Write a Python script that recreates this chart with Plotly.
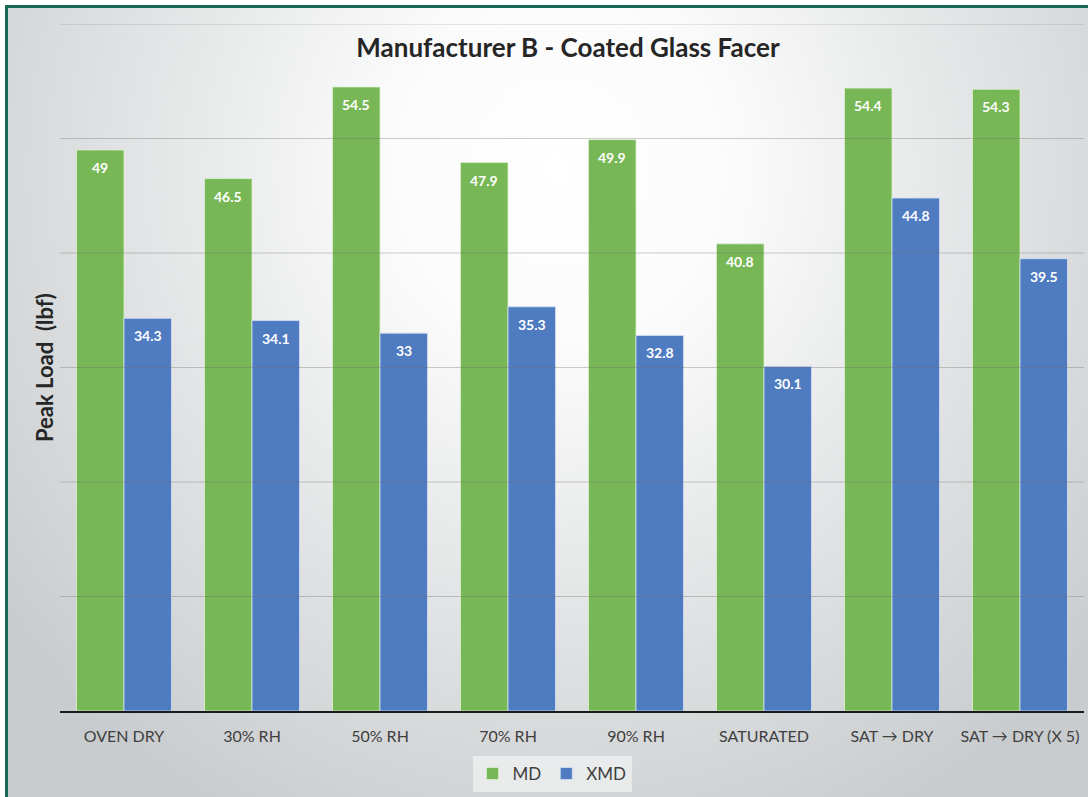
import base64
import plotly.graph_objects as go

# Chart data
categories = ["OVEN DRY", "30% RH", "50% RH", "70% RH", "90% RH",
              "SATURATED", "SAT \u2192 DRY", "SAT \u2192 DRY (X 5)"]
md_values = [49, 46.5, 54.5, 47.9, 49.9, 40.8, 54.4, 54.3]
xmd_values = [34.3, 34.1, 33, 35.3, 32.8, 30.1, 44.8, 39.5]
grid_values = [10, 20, 30, 40, 50, 60]

W, H = 1088, 797
ML, MR, MT, MB = 60, 4, 24, 86
PW, PH = W - ML - MR, H - MT - MB

GREEN = "#77b755"
BLUE = "#4f7bc1"
FONT = "Lato, 'Open Sans', sans-serif"

# Soft radial backdrop with a teal frame along the top and left edges
svg = f"""<svg xmlns='http://www.w3.org/2000/svg' width='{W}' height='{H}' viewBox='0 0 {W} {H}'>
<defs>
<radialGradient id='g' gradientUnits='userSpaceOnUse' cx='560' cy='170' r='700'
 gradientTransform='translate(560 170) scale(1 1.05) translate(-560 -170)'>
<stop offset='0' stop-color='#ffffff'/>
<stop offset='0.25' stop-color='#fbfbfb'/>
<stop offset='0.6' stop-color='#e2e4e5'/>
<stop offset='1' stop-color='#c9ccce'/>
</radialGradient>
</defs>
<rect x='0' y='0' width='{W}' height='{H}' fill='#ffffff'/>
<rect x='8' y='8' width='{W}' height='{H}' fill='url(#g)'/>
<rect x='5' y='5' width='{W}' height='3' fill='#176a58'/>
<rect x='5' y='5' width='3' height='{H}' fill='#176a58'/>
</svg>"""
bg_uri = "data:image/svg+xml;base64," + base64.b64encode(svg.encode()).decode()

fig = go.Figure()
fig.add_trace(go.Bar(
    name="MD", x=categories, y=md_values,
    marker=dict(color=GREEN, line=dict(color="rgba(220,240,210,0.8)", width=1)),
))
fig.add_trace(go.Bar(
    name="XMD", x=categories, y=xmd_values,
    marker=dict(color=BLUE, line=dict(color="rgba(210,225,245,0.8)", width=1)),
))

# Value labels just inside the top of each bar
annotations = []
for series, shift in ((md_values, -24), (xmd_values, 24)):
    for cat, val in zip(categories, series):
        annotations.append(dict(
            x=cat, y=val, xref="x", yref="y", text=f"{val:g}",
            showarrow=False, xshift=shift, yshift=-7, yanchor="top",
            font=dict(family=FONT, size=14, color="white", weight="bold"),
        ))

annotations.append(dict(
    text="Peak Load  (lbf)", textangle=-90, showarrow=False,
    xref="paper", yref="paper", x=(44 - ML) / PW, y=(H - MB - 368) / PH,
    xanchor="center", yanchor="middle",
    font=dict(family=FONT, size=22, color="#262626", weight="bold"),
))

shapes = [dict(type="line", xref="paper", yref="y", x0=0, x1=1, y0=v, y1=v,
               line=dict(color="rgba(110,110,110,0.35)", width=1), layer="above")
          for v in grid_values]

fig.update_layout(
    width=W, height=H,
    margin=dict(l=ML, r=MR, t=MT, b=MB),
    paper_bgcolor="#dfe1e2",
    plot_bgcolor="rgba(0,0,0,0)",
    barmode="group", bargap=0.258, bargroupgap=0.0,
    title=dict(text="Manufacturer B - Coated Glass Facer",
               x=568 / W, xanchor="center", xref="container",
               y=1 - 48 / H, yanchor="middle", yref="container",
               font=dict(family=FONT, size=26, color="#262626", weight="bold")),
    xaxis=dict(showgrid=False, showline=True, linecolor="#1a1a1a", linewidth=2,
               ticks="outside", ticklen=10, tickcolor="rgba(0,0,0,0)",
               tickfont=dict(family=FONT, size=16, color="#404040"),
               fixedrange=True),
    yaxis=dict(range=[0, 60], showgrid=False, showticklabels=False,
               zeroline=False, showline=False, fixedrange=True),
    legend=dict(orientation="h", x=(552 - ML) / PW, xanchor="center",
                y=(H - MB - 774) / PH, yanchor="middle",
                bgcolor="rgba(240,241,242,0.75)",
                font=dict(family=FONT, size=17, color="#404040"),
                itemwidth=30),
    annotations=annotations,
    shapes=shapes,
    images=[dict(source=bg_uri, xref="paper", yref="paper",
                 x=-ML / PW, y=1 + MT / PH, sizex=W / PW, sizey=H / PH,
                 xanchor="left", yanchor="top", sizing="stretch", layer="below")],
    showlegend=True,
)

fig.write_html("out.html")
